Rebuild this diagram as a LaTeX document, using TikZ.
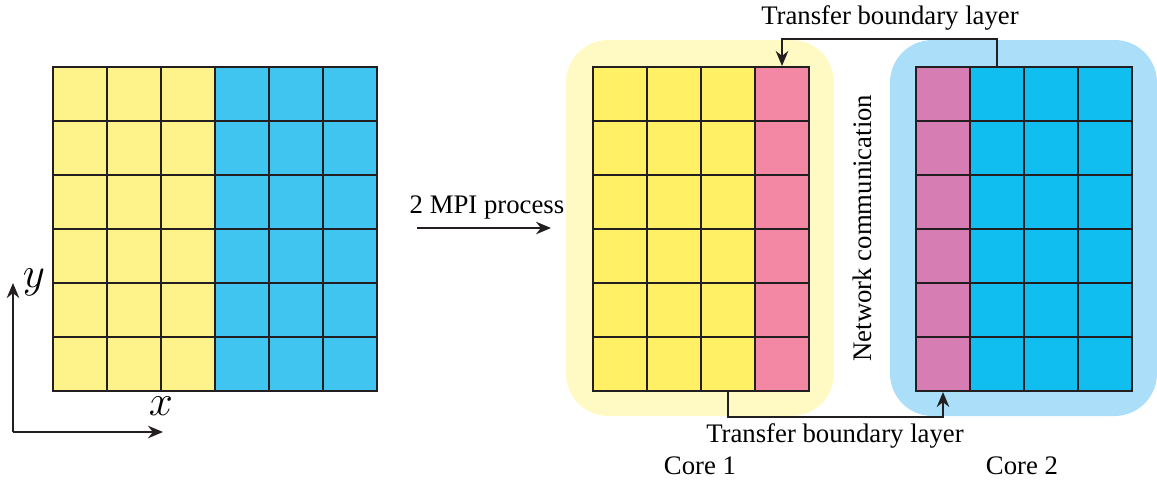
\documentclass[tikz,border=0pt]{standalone}
\usepackage{fontspec}
\setmainfont{Liberation Serif}
\usepackage{amsmath}
\usetikzlibrary{arrows.meta}
\usetikzlibrary{positioning}

\definecolor{paleyellow}{HTML}{FDF38A}
\definecolor{paleblue}{HTML}{40C4F0}
\definecolor{coreyellow}{HTML}{FFF066}
\definecolor{corepink}{HTML}{F288A4}
\definecolor{corepurple}{HTML}{D67DB3}
\definecolor{corecyan}{HTML}{10BEF0}
\definecolor{bgyellow}{HTML}{FFF9C4}
\definecolor{bgblue}{HTML}{ABDFF9}
\definecolor{linegray}{HTML}{231F20}

\tikzset{
  cell/.style={draw=linegray, line width=0.8pt, minimum size=21.6pt, inner sep=0pt},
  conn/.style={draw=linegray, line width=0.8pt, -{Stealth[length=6pt,width=5pt]}},
  corebg/.style={rounded corners=17pt},
}

\begin{document}
\begin{tikzpicture}[x=0.4pt,y=-0.4pt,font=\fontsize{10.7}{13}\selectfont]
\useasboundingbox (0,0) rectangle (1157,482);

% core backgrounds
\fill[bgyellow,corebg] (566,40) rectangle (834,416);
\fill[bgblue,corebg] (890,40) rectangle (1157,416);

% serial domain
\foreach \i in {0,1,2}{
  \foreach \j in {0,...,5}{
    \node[cell,fill=paleyellow] (L-\i-\j) at (80+54*\i,94+54*\j) {};
  }
}
\foreach \i in {3,4,5}{
  \foreach \j in {0,...,5}{
    \node[cell,fill=paleblue] (L-\i-\j) at (80+54*\i,94+54*\j) {};
  }
}

% core 1
\foreach \i in {0,1,2}{
  \foreach \j in {0,...,5}{
    \node[cell,fill=coreyellow] (A-\i-\j) at (620+54*\i,94+54*\j) {};
  }
}
\foreach \j in {0,...,5}{
  \node[cell,fill=corepink] (A-3-\j) at (782,94+54*\j) {};
}

% core 2
\foreach \j in {0,...,5}{
  \node[cell,fill=corepurple] (B-0-\j) at (943,94+54*\j) {};
}
\foreach \i in {1,2,3}{
  \foreach \j in {0,...,5}{
    \node[cell,fill=corecyan] (B-\i-\j) at (943+54*\i,94+54*\j) {};
  }
}

% axes
\coordinate (origin) at (13,432);
\coordinate (yend) at (13,283);
\coordinate (xend) at (163,432);
\draw[conn] (origin) -- (yend);
\draw[conn] (origin) -- (xend);
\node (ylabel) at (34,282) {\LARGE $y$};
\node (xlabel) at (161,406) {\LARGE $x$};

% split into processes
\coordinate (mpistart) at (417,228);
\coordinate (mpiend) at (551,228);
\draw[conn] (mpistart) -- (mpiend);
\node (mpilabel) at (487,207) {2 MPI process};

% boundary exchange
\draw[conn] (B-1-0.north) -- ++(0,-27) -| (A-3-0.north);
\draw[conn] (A-2-5.south) -- ++(0,25) -| (B-0-5.south);
\node (toplabel) at (890,18) {Transfer boundary layer};
\node (botlabel) at (835,436) {Transfer boundary layer};
\node[rotate=90] (netlabel) at (862,228) {Network communication};

\node (core1) at (700,466) {Core 1};
\node (core2) at (1022,466) {Core 2};
\end{tikzpicture}
\end{document}
